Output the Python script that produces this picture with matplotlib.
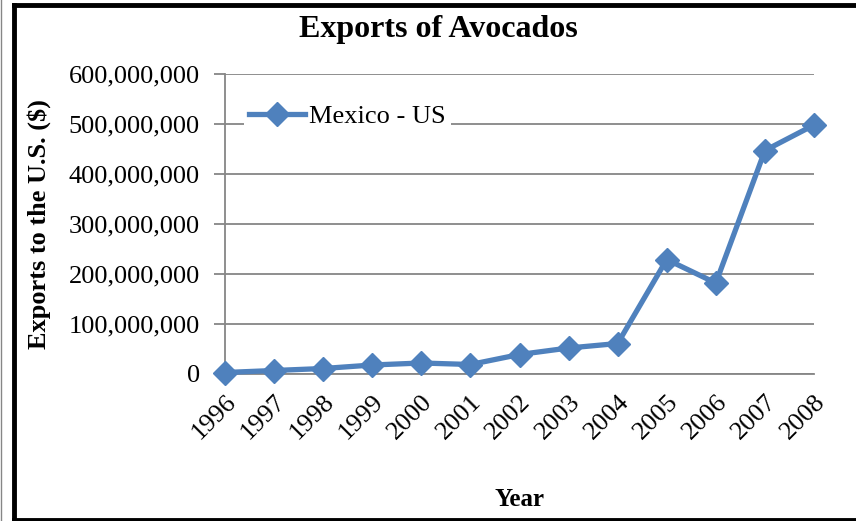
import matplotlib.pyplot as plt
from matplotlib.lines import Line2D
from matplotlib.ticker import FuncFormatter, MultipleLocator

# Years and exports of avocados from Mexico to the US (dollars)
years = [1996, 1997, 1998, 1999, 2000, 2001, 2002, 2003, 2004, 2005, 2006, 2007, 2008]
exports = [3e6, 7e6, 11e6, 18e6, 22e6, 19e6, 39e6, 52e6, 61e6, 229e6, 182e6, 447e6, 498e6]
y_ticks = [0, 100e6, 200e6, 300e6, 400e6, 500e6, 600e6]

plt.rcParams['font.family'] = ['Liberation Serif', 'DejaVu Serif']

W, H = 856, 521
fig = plt.figure(figsize=(W / 100, H / 100), dpi=100)
ax = fig.add_axes([225 / W, 1 - 374 / H, (814 - 225) / W, (374 - 74) / H])

blue = '#4F81BD'
grey = '#868686'

ax.plot(years, exports, color=blue, lw=3.8, marker='D', markersize=12,
        clip_on=False, zorder=5, label='Mexico - US')

ax.set_xlim(1996, 2008)
ax.set_ylim(0, 600e6)
ax.set_yticks(y_ticks)
ax.yaxis.set_major_formatter(FuncFormatter(lambda v, p: f'{int(v):,}'))
ax.grid(axis='y', color=grey, lw=1.3)
ax.set_axisbelow(True)

# tick marks every 3 years, labels every year
ax.set_xticks(years)
ax.xaxis.set_minor_locator(MultipleLocator(3))
ax.tick_params(axis='x', which='major', length=0, labelrotation=45, pad=12)
ax.tick_params(axis='x', which='minor', length=8, color=grey, width=1.3)
for lbl in ax.get_xticklabels():
    lbl.set_ha('right')
    lbl.set_va('top')
    lbl.set_rotation_mode('anchor')
ax.tick_params(axis='y', length=8, color=grey, width=1.3, pad=10)
ax.tick_params(labelsize=19)

for s in ['top', 'right']:
    ax.spines[s].set_visible(False)
for s in ['left', 'bottom']:
    ax.spines[s].set_color(grey)
    ax.spines[s].set_linewidth(1.3)

ax.set_xlabel('Year', fontsize=18, fontweight='bold', labelpad=32)
ax.set_ylabel('Exports to the U.S. ($)', fontsize=19, fontweight='bold', labelpad=13)
fig.text(438 / W, 1 - 29 / H, 'Exports of Avocados', fontsize=23, fontweight='bold',
         ha='center', va='center')

leg = ax.legend(loc='upper left', bbox_to_anchor=(0.01, 0.96), fontsize=19,
                frameon=True, fancybox=False, edgecolor='none', framealpha=1,
                handlelength=2.1, handletextpad=0.15, borderpad=0.2)

# chart border
fig.add_artist(Line2D([14 / W, 14 / W], [0, 1 - 5 / H], color='black', lw=3.5))
fig.add_artist(Line2D([14 / W, 1], [1 - 5 / H, 1 - 5 / H], color='black', lw=3.5))
fig.add_artist(Line2D([14 / W, 1], [1.5 / H, 1.5 / H], color='black', lw=3.5))
fig.add_artist(Line2D([0.5 / W, 0.5 / W], [0, 1], color=grey, lw=1))

fig.savefig('out.png', dpi=100)
